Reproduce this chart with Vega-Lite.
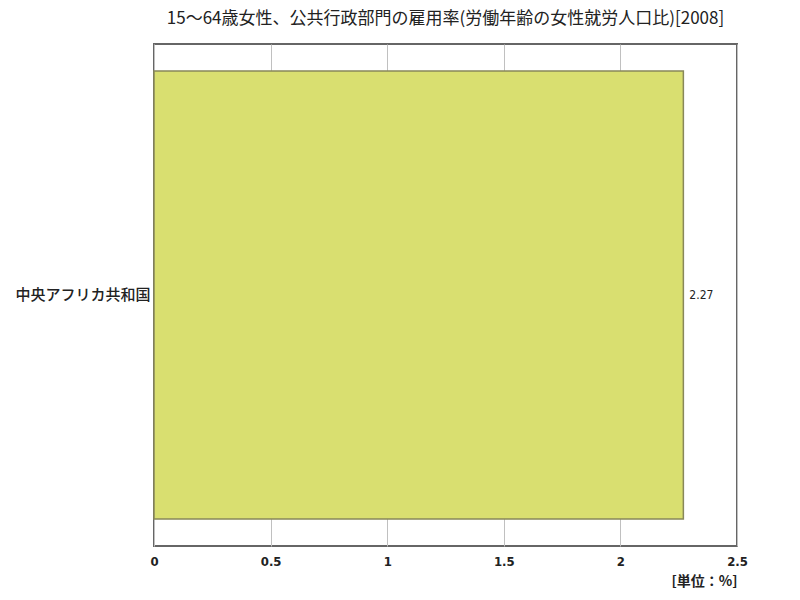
{
  "$schema": "https://vega.github.io/schema/vega-lite/v6.json",
  "width": 583,
  "height": 502,
  "padding": {"left": 14, "top": 10, "right": 10, "bottom": 5},
  "background": "white",
  "title": {
    "text": "15～64歳女性、公共行政部門の雇用率(労働年齢の女性就労人口比)[2008]",
    "font": "Noto Sans CJK JP",
    "fontSize": 17,
    "fontWeight": "normal",
    "color": "#222222",
    "anchor": "middle",
    "offset": 16
  },
  "config": {
    "view": {"stroke": "#666666", "strokeWidth": 2},
    "font": "Noto Sans CJK JP"
  },
  "data": {
    "values": [
      {"country": "中央アフリカ共和国", "value": 2.27}
    ]
  },
  "encoding": {
    "y": {
      "field": "country",
      "type": "nominal",
      "scale": {"paddingInner": 0, "paddingOuter": 0.06},
      "axis": {
        "title": null,
        "domain": false,
        "ticks": false,
        "labelPadding": 4,
        "labelFont": "Noto Sans CJK JP",
        "labelFontSize": 15,
        "labelFontWeight": 500,
        "labelColor": "#222222",
        "labelLimit": 200
      }
    },
    "x": {
      "field": "value",
      "type": "quantitative",
      "scale": {"domain": [0, 2.5], "nice": false},
      "axis": {
        "values": [0, 0.5, 1, 1.5, 2, 2.5],
        "format": "~g",
        "title": "[単位：%]",
        "titleFont": "Noto Sans CJK JP",
        "titleFontSize": 14,
        "titleFontWeight": "bold",
        "titleColor": "#222222",
        "titleAnchor": "end",
        "titleAlign": "right",
        "titlePadding": 6,
        "domain": false,
        "ticks": false,
        "grid": true,
        "gridColor": "#c0c0c0",
        "gridWidth": 1,
        "labelPadding": 9,
        "labelFont": "DejaVu Sans Condensed",
        "labelFontSize": 13,
        "labelFontWeight": "bold",
        "labelColor": "#222222",
        "labelFlush": false
      }
    }
  },
  "layer": [
    {
      "mark": {"type": "bar", "color": "#d9df70", "stroke": "#88885a", "strokeWidth": 1.5}
    },
    {
      "mark": {"type": "text", "align": "left", "dx": 6, "font": "DejaVu Sans Condensed", "fontSize": 12, "color": "#222222"},
      "encoding": {
        "text": {"field": "value", "type": "quantitative", "format": ".2f"}
      }
    }
  ]
}
